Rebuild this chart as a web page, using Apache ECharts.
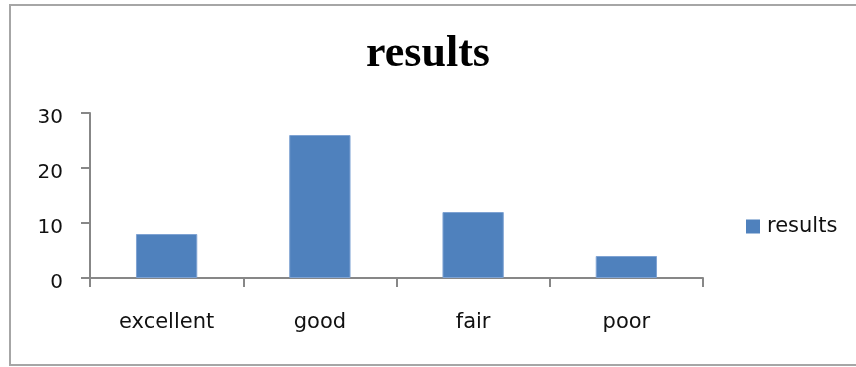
<!DOCTYPE html>
<html>
<head>
<meta charset="utf-8">
<script src="https://cdn.jsdelivr.net/npm/echarts@6/dist/echarts.min.js"></script>
<style>html,body{margin:0;padding:0;background:#fff;}#c{width:856px;height:367px;}</style>
</head>
<body>
<div id="c"></div>
<script>
const categories = ['excellent', 'good', 'fair', 'poor'];
const resultsValues = [8, 26, 12, 4];
const yTicks = { min: 0, max: 30, interval: 10 };
const seriesName = 'results';
const titleText = 'results';

const chart = echarts.init(document.getElementById('c'), null, { renderer: 'canvas' });
chart.setOption({
  animation: false,
  backgroundColor: '#ffffff',
  graphic: [{
    type: 'rect',
    shape: { x: 10, y: 5, width: 900, height: 360 },
    style: { fill: 'none', stroke: '#a6a6a6', lineWidth: 2 },
    silent: true
  }],
  title: {
    text: titleText,
    left: 'center',
    top: 33,
    padding: 0,
    textStyle: { fontFamily: 'Liberation Serif', fontWeight: 'bold', fontSize: 44, color: '#000' }
  },
  legend: {
    left: 746,
    top: 216,
    orient: 'vertical',
    itemWidth: 14,
    itemHeight: 14,
    itemGap: 10,
    padding: 0,
    icon: 'rect',
    itemStyle: { borderWidth: 0 },
    textStyle: { fontFamily: 'DejaVu Sans', fontSize: 21, color: '#111', padding: [0, 0, 0, 2] },
    data: [seriesName]
  },
  grid: { left: 90, right: 153, top: 113, bottom: 89, containLabel: false },
  xAxis: {
    type: 'category',
    data: categories,
    boundaryGap: true,
    axisLine: { lineStyle: { color: '#878787', width: 2 } },
    axisTick: { show: true, alignWithLabel: false, length: 9, lineStyle: { color: '#878787', width: 2 } },
    axisLabel: { margin: 34, fontFamily: 'DejaVu Sans', fontSize: 21, color: '#111' }
  },
  yAxis: {
    type: 'value',
    min: yTicks.min,
    max: yTicks.max,
    interval: yTicks.interval,
    splitLine: { show: false },
    axisLine: { show: true, lineStyle: { color: '#878787', width: 2 } },
    axisTick: { show: true, length: 9, lineStyle: { color: '#878787', width: 2 } },
    axisLabel: {
      margin: 27,
      formatter: '{v|{value}}',
      rich: { v: { fontFamily: 'DejaVu Sans', fontSize: 20, color: '#111', padding: [9, 0, 0, 0] } }
    }
  },
  series: [{
    name: seriesName,
    type: 'bar',
    data: resultsValues,
    barWidth: '40%',
    itemStyle: { color: '#4f81bd', borderColor: '#7fa3d3', borderWidth: 1 }
  }]
});
</script>
</body>
</html>
